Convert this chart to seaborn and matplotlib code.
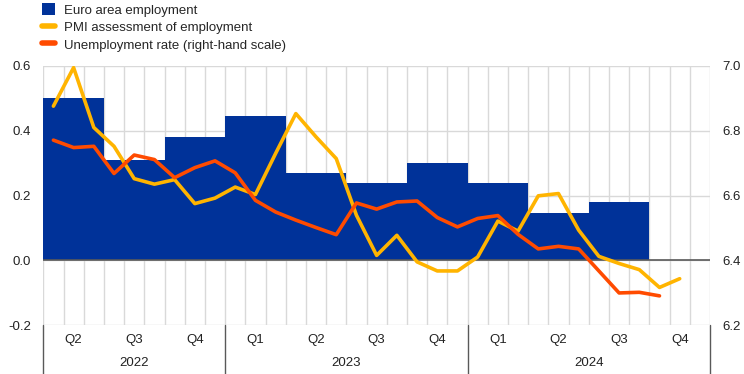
import numpy as np
import pandas as pd
import matplotlib
matplotlib.use("Agg")
import matplotlib.pyplot as plt
import seaborn as sns
from matplotlib.lines import Line2D
from matplotlib.patches import Patch
import matplotlib.transforms as mtransforms

# ---------------- data ----------------
quarter_labels = ["Q2", "Q3", "Q4", "Q1", "Q2", "Q3", "Q4", "Q1", "Q2", "Q3", "Q4"]
years = ["2022", "2023", "2024"]
quarters_per_year = [3, 4, 4]

# Euro area employment, quarter-on-quarter % change (Q2 2022 - Q3 2024)
employment = [0.50, 0.31, 0.38, 0.445, 0.27, 0.24, 0.30, 0.24, 0.145, 0.18]

# PMI assessment of employment, monthly (Apr 2022 - Nov 2024)
pmi = [0.476, 0.595, 0.41, 0.352, 0.252, 0.235, 0.249, 0.175, 0.192, 0.226,
       0.203, 0.33, 0.453, 0.381, 0.314, 0.139, 0.015, 0.077, -0.005, -0.033,
       -0.033, 0.010, 0.121, 0.090, 0.199, 0.206, 0.093, 0.012, -0.010, -0.029,
       -0.084, -0.057]

# Unemployment rate, monthly (Apr 2022 - Oct 2024), right-hand scale
unemployment = [6.771, 6.748, 6.752, 6.668, 6.725, 6.711, 6.655, 6.686, 6.707,
                6.670, 6.585, 6.549, 6.524, 6.501, 6.479, 6.577, 6.558, 6.580,
                6.583, 6.532, 6.503, 6.529, 6.538, 6.480, 6.435, 6.443, 6.435,
                6.367, 6.299, 6.301, 6.290]

BLUE = "#003299"
YELLOW = "#ffb400"
ORANGE = "#ff4b00"
GRID = "#d9d9d9"
DARK = "#595959"

sns.set_theme(style="white")
plt.rcParams["font.family"] = ["Liberation Sans", "DejaVu Sans"]
plt.rcParams["axes.unicode_minus"] = False

n_months = 3 * len(quarter_labels)
month_centres = np.arange(n_months) + 0.5
quarter_centres = np.arange(len(quarter_labels)) * 3 + 1.5

fig = plt.figure(figsize=(7.44, 3.74), dpi=100)
ax = fig.add_axes([43.3 / 744, 1 - 325 / 374, (710 - 43.3) / 744, (325 - 66) / 374])

# bars
df_bar = pd.DataFrame({"x": quarter_centres[:len(employment)], "y": employment})
sns.barplot(data=df_bar, x="x", y="y", native_scale=True, width=1.0,
            color=BLUE, saturation=1, linewidth=0, ax=ax, zorder=2)

# PMI line
sns.lineplot(x=month_centres[:len(pmi)], y=pmi, ax=ax, color=YELLOW,
             linewidth=2.6, zorder=6)

ax.axhline(0, color=DARK, lw=1.2, zorder=4)

ax.set_xlim(0, n_months)
ax.set_ylim(-0.2, 0.6)
ax.set_yticks([-0.2, 0.0, 0.2, 0.4, 0.6])
ax.set_yticklabels([f"{v:.1f}" for v in [-0.2, 0.0, 0.2, 0.4, 0.6]])
ax.set_xticks(np.arange(n_months + 1))
ax.set_xticklabels([])
ax.grid(True, color=GRID, lw=1.0, zorder=0)
ax.set_axisbelow(True)
ax.tick_params(axis="both", length=0, labelsize=9.5, colors="#222222")
ax.tick_params(axis="y", pad=9)
for s in ax.spines.values():
    s.set_visible(False)
ax.set_xlabel("")
ax.set_ylabel("")

# right axis
ax2 = ax.twinx()
sns.lineplot(x=month_centres[:len(unemployment)], y=unemployment, ax=ax2,
             color=ORANGE, linewidth=2.6, zorder=7)
ax2.set_ylim(6.2, 7.0)
ax2.set_yticks([6.2, 6.4, 6.6, 6.8, 7.0])
ax2.set_yticklabels([f"{v:.1f}" for v in [6.2, 6.4, 6.6, 6.8, 7.0]])
ax2.tick_params(axis="y", length=0, labelsize=9.5, colors="#222222", pad=9)
ax2.grid(False)
for s in ax2.spines.values():
    s.set_visible(False)
ax2.set_ylabel("")
ax2.set_xlim(0, n_months)

# category axis text
trans = mtransforms.blended_transform_factory(ax.transData, ax.transAxes)
for xc, lab in zip(quarter_centres, quarter_labels):
    ax.text(xc, -0.058, lab, transform=trans, ha="center", va="center",
            fontsize=9.5, color="#222222")
edges = np.concatenate([[0], np.cumsum(quarters_per_year) * 3])
for i, yr in enumerate(years):
    xc = (edges[i] + edges[i + 1]) / 2
    ax.text(xc, -0.145, yr, transform=trans, ha="center", va="center",
            fontsize=9.5, color="#222222")
for e in edges:
    ax.add_line(Line2D([e, e], [0, -0.2], transform=trans, color=DARK,
                       lw=1.0, clip_on=False))

# legend
handles = [Patch(facecolor=BLUE, edgecolor="none"),
           Line2D([], [], color=YELLOW, lw=4),
           Line2D([], [], color=ORANGE, lw=4)]
labels = ["Euro area employment", "PMI assessment of employment",
          "Unemployment rate (right-hand scale)"]
fig.legend(handles, labels, loc="upper left", bbox_to_anchor=(42 / 744, 1 - 3.5 / 374),
           frameon=False, fontsize=9.5, handlelength=1.0, handleheight=1.0,
           handletextpad=0.7, labelspacing=0.3, borderpad=0.0,
           borderaxespad=0.0)

fig.savefig("out.png", dpi=100)
